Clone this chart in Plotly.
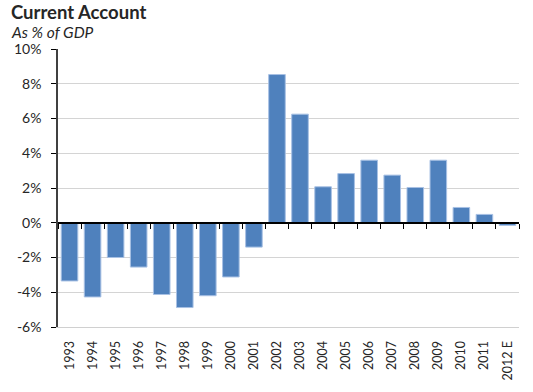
import plotly.graph_objects as go

years = ["1993", "1994", "1995", "1996", "1997", "1998", "1999", "2000", "2001", "2002",
         "2003", "2004", "2005", "2006", "2007", "2008", "2009", "2010", "2011", "2012 E"]
current_account = [-3.35, -4.27, -2.0, -2.55, -4.13, -4.88, -4.2, -3.12, -1.4, 8.53,
                   6.25, 2.07, 2.83, 3.6, 2.74, 2.03, 3.6, 0.88, 0.48, -0.15]
y_ticks = [-6, -4, -2, 0, 2, 4, 6, 8, 10]
y_tick_labels = [f"{v}%" for v in y_ticks]

W, H = 533, 392
ml, mr, mt, mb = 57.5, 13.5, 49, 65
ymin, ymax = -6, 10
n = len(years)
idx = list(range(n))
plot_w, plot_h = W - ml - mr, H - mt - mb


def px_to_paper(x_px, y_px):
    """figure pixel -> paper fraction for annotations"""
    return (x_px - ml) / plot_w, (H - mb - y_px) / plot_h


font = "Lato, 'Open Sans', sans-serif"
txt = "#262626"

fig = go.Figure()
fig.add_trace(go.Bar(
    x=idx, y=current_account,
    marker=dict(color="#4f81bd", line=dict(color="#a8c1e4", width=1)),
    width=0.72, xaxis="x", yaxis="y", hoverinfo="x+y",
))
# invisible trace to register the zero-line axis (x2)
fig.add_trace(go.Scatter(x=[0], y=[0], xaxis="x2", yaxis="y", mode="markers",
                         marker=dict(opacity=0), hoverinfo="skip"))

tx, ty = px_to_paper(9, 12.5)
sx, sy = px_to_paper(9, 32.5)

fig.update_layout(
    width=W, height=H,
    margin=dict(l=ml, r=mr, t=mt, b=mb, pad=0, autoexpand=False),
    paper_bgcolor="white", plot_bgcolor="white",
    showlegend=False,
    font=dict(family=font, color=txt),
    xaxis=dict(
        range=[-0.5, n - 0.5], tickmode="array", tickvals=idx, ticktext=years,
        tickangle=-90, ticks="", showgrid=False, zeroline=False, automargin=False,
        showline=True, linecolor="#d0d0d0", linewidth=1,
        tickfont=dict(size=12.5, color=txt), ticklabelstandoff=8,
    ),
    xaxis2=dict(
        overlaying="x", anchor="free", position=(0 - ymin) / (ymax - ymin),
        range=[-0.5, n - 0.5], tickmode="array",
        tickvals=[i - 0.5 for i in range(n + 1)], automargin=False,
        ticks="outside", ticklen=5, tickcolor="#000", tickwidth=1,
        showticklabels=False, showgrid=False, zeroline=False,
        showline=True, linecolor="#000", linewidth=1.5, side="bottom",
    ),
    yaxis=dict(
        range=[ymin, ymax], tickmode="array", tickvals=y_ticks, ticktext=y_tick_labels,
        showgrid=True, gridcolor="#d4d4d4", gridwidth=1, zeroline=False, automargin=False,
        showline=True, linecolor="#404040", linewidth=1.5,
        ticks="outside", ticklen=5, tickcolor="#000",
        tickfont=dict(size=14, color=txt), ticklabelstandoff=7,
    ),
    annotations=[
        dict(text="<b>Current Account</b>", xref="paper", yref="paper",
             x=tx, y=ty, xanchor="left", yanchor="middle", showarrow=False, borderpad=0,
             font=dict(size=18.5, color=txt, family=font)),
        dict(text="<i>As % of GDP</i>", xref="paper", yref="paper",
             x=sx, y=sy, xanchor="left", yanchor="middle", showarrow=False, borderpad=0,
             font=dict(size=15.5, color=txt, family=font)),
    ],
)

# remove the browser's default 8px body margin so the figure starts at the page corner
fig.write_html("out.html", config={"displayModeBar": False},
               post_script="document.body.style.margin='0px';")
